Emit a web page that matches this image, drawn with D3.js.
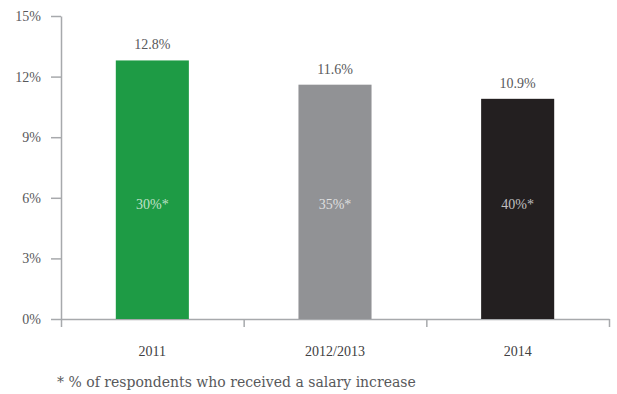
<!DOCTYPE html>
<html>
<head>
<meta charset="utf-8">
<script src="https://cdn.jsdelivr.net/npm/d3@7"></script>
<style>
  body { margin: 0; background: #fff; }
  text { font-family: "Liberation Serif", "DejaVu Serif", serif; }
</style>
</head>
<body>
<script>
// chart data
var categories = ["2011", "2012/2013", "2014"];
var increase = [12.8, 11.6, 10.9];
var respondents = ["30%*", "35%*", "40%*"];
var barColors = ["#1e9b45", "#919295", "#231f20"];
var yTicks = [0, 3, 6, 9, 12, 15];
var footnote = "* % of respondents who received a salary increase";

var margin = {top: 16, right: 8, bottom: 75, left: 61},
    width = 617 - margin.left - margin.right,
    height = 394 - margin.top - margin.bottom;

var svg = d3.select("body").append("svg")
    .attr("width", 617)
    .attr("height", 394)
  .append("g")
    .attr("transform", "translate(" + margin.left + "," + margin.top + ")");

var xScale = d3.scaleBand()
    .domain(categories)
    .range([0, width])
    .paddingInner(0.6)
    .paddingOuter(0.3);

// band boundaries for the x tick marks
var xEdges = d3.scaleLinear().domain([0, categories.length]).range([0, width]);

var yScale = d3.scaleLinear()
    .domain([0, 15])
    .range([height, 0]);

var axisColor = "#a7a9ac";

// y axis
var yAxis = svg.append("g")
    .call(d3.axisLeft(yScale).tickValues(yTicks).tickFormat(function(d) { return d + "%"; })
      .tickSize(10).tickSizeOuter(0).tickPadding(10));
yAxis.select(".domain").attr("stroke", axisColor).attr("stroke-width", 1.5);
yAxis.selectAll(".tick line").attr("stroke", axisColor).attr("stroke-width", 1.5);
yAxis.selectAll(".tick text").attr("fill", "#58595b").style("font-size", "14px")
    .style("font-family", "Liberation Serif");

// x axis line and tick marks at band edges
var xAxis = svg.append("g")
    .attr("transform", "translate(0," + height + ")")
    .call(d3.axisBottom(xEdges).ticks(categories.length).tickFormat("").tickSize(8).tickSizeOuter(0));
xAxis.select(".domain").attr("stroke", axisColor).attr("stroke-width", 1.5);
xAxis.selectAll(".tick line").attr("stroke", axisColor).attr("stroke-width", 1.5);

// category labels
svg.selectAll(".cat")
    .data(categories)
  .enter().append("text")
    .attr("class", "cat")
    .attr("x", function(d) { return xScale(d) + xScale.bandwidth() / 2; })
    .attr("y", height + 37)
    .attr("text-anchor", "middle")
    .attr("fill", "#414042")
    .style("font-size", "14px")
    .text(function(d) { return d; });

// bars
svg.selectAll(".bar")
    .data(increase)
  .enter().append("rect")
    .attr("class", "bar")
    .attr("x", function(d, i) { return xScale(categories[i]); })
    .attr("y", function(d) { return yScale(d); })
    .attr("width", xScale.bandwidth())
    .attr("height", function(d) { return height - yScale(d); })
    .attr("fill", function(d, i) { return barColors[i]; });

// value labels
svg.selectAll(".val")
    .data(increase)
  .enter().append("text")
    .attr("class", "val")
    .attr("x", function(d, i) { return xScale(categories[i]) + xScale.bandwidth() / 2; })
    .attr("y", function(d) { return yScale(d) - 11; })
    .attr("text-anchor", "middle")
    .attr("fill", "#58595b")
    .style("font-size", "14px")
    .text(function(d) { return d.toFixed(1) + "%"; });

// labels inside bars
svg.selectAll(".inner")
    .data(respondents)
  .enter().append("text")
    .attr("class", "inner")
    .attr("x", function(d, i) { return xScale(categories[i]) + xScale.bandwidth() / 2; })
    .attr("y", yScale(5.7))
    .attr("dy", "0.35em")
    .attr("text-anchor", "middle")
    .attr("fill", "#ffffff")
    .attr("fill-opacity", 0.72)
    .style("font-size", "14px")
    .text(function(d) { return d; });

// footnote
svg.append("text")
    .attr("x", -4)
    .attr("y", height + 68)
    .attr("fill", "#58595b")
    .style("font-family", "DejaVu Serif")
    .style("font-size", "14px")
    .text(footnote);
</script>
</body>
</html>
